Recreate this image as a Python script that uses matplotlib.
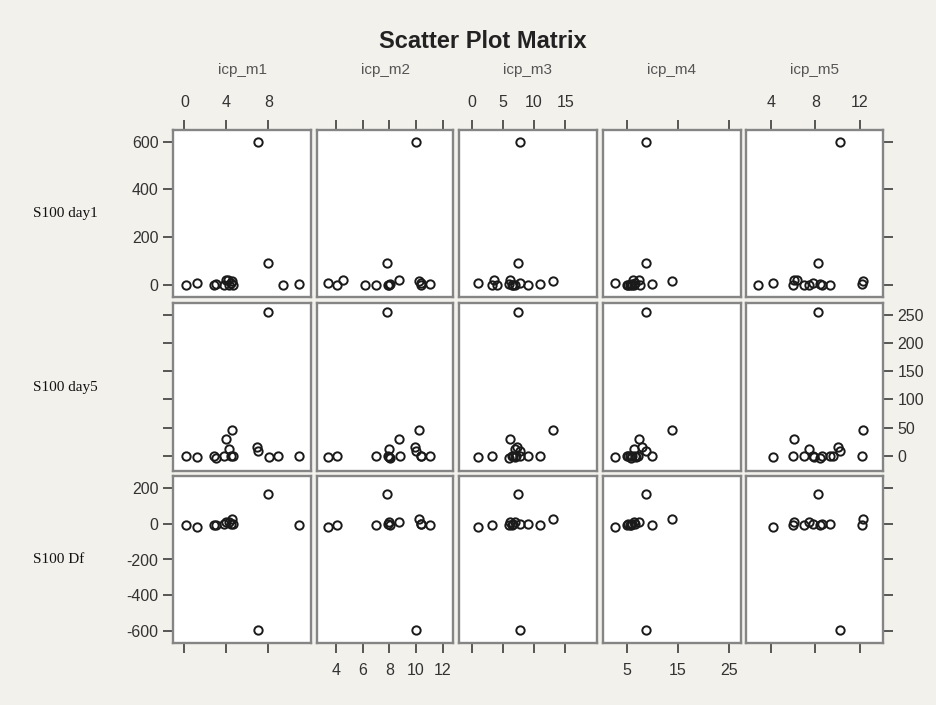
import numpy as np
import matplotlib
matplotlib.use("Agg")
import matplotlib.pyplot as plt

# ---- data (nan = value missing for that case) ----
icp_m1 = [7.05, 8.0, 9.4, 1.18, 0.13, 2.8, 4.5, 4.0, 6.95, 4.3, 3.78, 10.95, 4.6, 4.2, 8.05, 8.95, 3.0, 4.45]
icp_m2 = [10.0, 7.8, 6.2, 3.42, 4.05, 7.0, 10.25, 8.7, 9.9, 8.0, 7.9, 11.05, 10.4, 4.5, 7.95, 8.8, 8.05, 10.35]
icp_m3 = [7.8, 7.5, 4.0, 1.07, 3.2, 6.4, 13.0, 6.2, 7.3, 7.0, 6.7, 10.9, 9.1, 3.5, 6.9, 7.1, 6.0, 7.7]
icp_m4 = [8.7, 8.7, 7.6, 2.72, 5.0, 5.6, 13.8, 7.4, 7.9, 6.5, 5.3, 9.9, 6.0, 6.2, 6.8, 7.2, 5.9, 6.6]
icp_m5 = [10.2, 8.2, 2.9, 4.18, 6.0, 7.0, 12.3, 6.1, 10.0, 7.4, 8.6, 12.2, 9.3, 6.4, 7.9, 9.6, 8.4, 7.8]
s100_day1 = [600, 90, -3, 6, -2, -3, 17, 18, np.nan, 0, 0, 3, -2, 20, np.nan, np.nan, 2, 5]
s100_day5 = [8, 255, np.nan, -2, 0, 0, 45, 30, 15, 12, 0, 0, 0, np.nan, -3, 0, -4, 0]
s100_df = [-592, 165, np.nan, -17, -8, -8, 28, 10, np.nan, 10, -5, -8, -5, np.nan, np.nan, np.nan, -9, -3]

col_names = ["icp_m1", "icp_m2", "icp_m3", "icp_m4", "icp_m5"]
row_names = ["S100 day1", "S100 day5", "S100 Df"]
x_ticks = [[0, 4, 8], [4, 6, 8, 10, 12], [0, 5, 10, 15], [5, 15, 25], [4, 8, 12]]
y_ticks = [[0, 200, 400, 600], [0, 50, 100, 150, 200, 250], [-600, -400, -200, 0, 200]]

xs = [icp_m1, icp_m2, icp_m3, icp_m4, icp_m5]
ys = [s100_day1, s100_day5, s100_df]

# ---- layout (pixel boxes measured on the 936x705 reference) ----
W, H = 936, 705
col_px = [(173, 311), (317, 453), (459, 597), (603, 741), (746, 883)]
row_px = [(130, 297), (303, 471), (476, 643)]
x_lims = [(-1.08, 12.07), (2.57, 12.77), (-2.04, 20.1), (0.38, 27.3), (1.79, 14.06)]
y_lims = [(-52, 650), (-27, 271), (-665, 265)]

BG = "#f3f1ec"
plt.rcParams["axes.unicode_minus"] = False
plt.rcParams["font.family"] = ["Liberation Sans", "DejaVu Sans"]

fig = plt.figure(figsize=(W / 100, H / 100), dpi=100, facecolor=BG)

for r, (t, b) in enumerate(row_px):
    for c, (l, rr) in enumerate(col_px):
        ax = fig.add_axes([l / W, 1 - b / H, (rr - l) / W, (b - t) / H])
        ax.set_facecolor("white")
        ax.plot(xs[c], ys[r], linestyle="none", marker="o", ms=6,
                mfc="none", mec="#1a1a1a", mew=1.4)
        ax.set_xlim(*x_lims[c])
        ax.set_ylim(*y_lims[r])
        for s in ax.spines.values():
            s.set_color("#858585")
            s.set_linewidth(1.7)

        ax.set_xticks(x_ticks[c])
        ax.set_yticks(y_ticks[r])
        ax.tick_params(axis="both", direction="out", length=7.5, width=1.2,
                       color="#3c3c3c", labelsize=11.5, labelcolor="#333333")
        ax.tick_params(axis="x", pad=7)
        ax.tick_params(axis="y", pad=3)
        # ticks on every outer side, labels alternate like a lattice splom
        ax.tick_params(axis="x", top=(r == 0), bottom=(r == 2),
                       labeltop=(r == 0 and c % 2 == 0),
                       labelbottom=(r == 2 and c % 2 == 1))
        ax.tick_params(axis="y", left=(c == 0), right=(c == 4),
                       labelleft=(c == 0 and r % 2 == 0),
                       labelright=(c == 4 and r % 2 == 1))

        if r == 0:
            ax.text(0.5, (t - 70) / (b - t) + 1, col_names[c], transform=ax.transAxes,
                    ha="center", va="center", fontsize=11, color="#555555")
        if c == 0:
            fig.text(33 / W, 1 - (t + b) / 2 / H, row_names[r], ha="left", va="center",
                     fontsize=11, family="Liberation Serif", color="#111111")

fig.text(483 / W, 1 - 42 / H, "Scatter Plot Matrix", ha="center", va="center",
         fontsize=17, fontweight="bold", color="#222222")

fig.savefig("out.png", dpi=100, facecolor=BG)
